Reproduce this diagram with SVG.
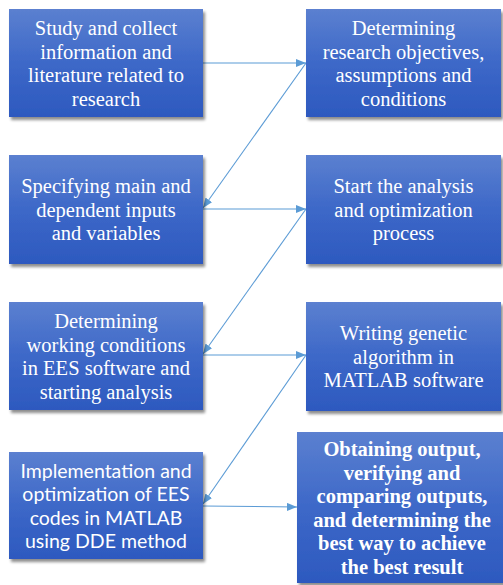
<svg xmlns="http://www.w3.org/2000/svg" width="503" height="585" viewBox="0 0 503 585">
<defs>
<linearGradient id="g" x1="0" y1="0" x2="0" y2="1">
<stop offset="0" stop-color="#5b80d0"/>
<stop offset="0.5" stop-color="#3d68c8"/>
<stop offset="1" stop-color="#2d59bf"/>
</linearGradient>
<filter id="sh" x="-10%" y="-10%" width="125%" height="125%">
<feGaussianBlur in="SourceAlpha" stdDeviation="1.5"/>
<feOffset dx="1.5" dy="2.5" result="b"/>
<feComponentTransfer><feFuncA type="linear" slope="0.45"/></feComponentTransfer>
<feMerge><feMergeNode/><feMergeNode in="SourceGraphic"/></feMerge>
</filter>
<marker id="ah" markerWidth="10" markerHeight="8" refX="10" refY="4" orient="auto" markerUnits="userSpaceOnUse">
<path d="M0,0 L10,4 L0,8 Z" fill="#5b9bd5"/>
</marker>
</defs>
<style>
.box{fill:url(#g);filter:url(#sh)}
.t{font-size:20.5px;fill:#ffffff;text-anchor:middle}
.b{font-weight:bold}
.s{font-size:19.5px;fill:#ffffff;text-anchor:middle}
.c{stroke:#5b9bd5;stroke-width:1.1;fill:none;marker-end:url(#ah)}
</style>
<rect width="503" height="585" fill="#ffffff"/>
<g id="connectors">
<line class="c" x1="203" y1="63" x2="306" y2="63"/>
<line class="c" x1="306" y1="63" x2="203" y2="208"/>
<line class="c" x1="203" y1="209" x2="306" y2="209"/>
<line class="c" x1="306" y1="209" x2="203" y2="354"/>
<line class="c" x1="203" y1="355" x2="306" y2="355"/>
<line class="c" x1="306" y1="355" x2="203" y2="504"/>
<line class="c" x1="203" y1="506" x2="297" y2="507"/>
</g>
<g id="n1" font-family="'Liberation Serif', 'Times New Roman', 'DejaVu Serif', serif">
<rect class="box" x="9" y="9" width="194" height="108"/>
<text class="t" x="106" y="35">Study and collect</text>
<text class="t" x="106" y="58.5">information and</text>
<text class="t" x="106" y="82">literature related to</text>
<text class="t" x="106" y="105.5">research</text>
</g>
<g id="n2" font-family="'Liberation Serif', 'Times New Roman', 'DejaVu Serif', serif">
<rect class="box" x="306" y="9" width="195" height="108"/>
<text class="t" x="403.5" y="35">Determining</text>
<text class="t" x="403.5" y="58.5">research objectives,</text>
<text class="t" x="403.5" y="82">assumptions and</text>
<text class="t" x="403.5" y="105.5">conditions</text>
</g>
<g id="n3" font-family="'Liberation Serif', 'Times New Roman', 'DejaVu Serif', serif">
<rect class="box" x="9" y="155" width="194" height="109"/>
<text class="t" x="106" y="193">Specifying main and</text>
<text class="t" x="106" y="216.5">dependent inputs</text>
<text class="t" x="106" y="240">and variables</text>
</g>
<g id="n4" font-family="'Liberation Serif', 'Times New Roman', 'DejaVu Serif', serif">
<rect class="box" x="306" y="155" width="195" height="109"/>
<text class="t" x="403.5" y="193">Start the analysis</text>
<text class="t" x="403.5" y="216.5">and optimization</text>
<text class="t" x="403.5" y="240">process</text>
</g>
<g id="n5" font-family="'Liberation Serif', 'Times New Roman', 'DejaVu Serif', serif">
<rect class="box" x="9" y="302" width="194" height="108"/>
<text class="t" x="106" y="328">Determining</text>
<text class="t" x="106" y="351.5">working conditions</text>
<text class="t" x="106" y="375">in EES software and</text>
<text class="t" x="106" y="398.5">starting analysis</text>
</g>
<g id="n6" font-family="'Liberation Serif', 'Times New Roman', 'DejaVu Serif', serif">
<rect class="box" x="306" y="302" width="195" height="109"/>
<text class="t" x="403.5" y="340">Writing genetic</text>
<text class="t" x="403.5" y="363.5">algorithm in</text>
<text class="t" x="403.5" y="387">MATLAB software</text>
</g>
<g id="n7" font-family="Lato, 'Open Sans', 'Liberation Sans', sans-serif">
<rect class="box" x="9" y="452" width="194" height="107"/>
<text class="s" x="106" y="477.5">Implementation and</text>
<text class="s" x="106" y="501">optimization of EES</text>
<text class="s" x="106" y="524.5">codes in MATLAB</text>
<text class="s" x="106" y="548">using DDE method</text>
</g>
<g id="n8" font-family="'Liberation Serif', 'Times New Roman', 'DejaVu Serif', serif">
<rect class="box" x="297" y="432" width="208" height="151"/>
<text class="t b" x="402" y="456">Obtaining output,</text>
<text class="t b" x="402" y="479.5">verifying and</text>
<text class="t b" x="402" y="503">comparing outputs,</text>
<text class="t b" x="402" y="526.5">and determining the</text>
<text class="t b" x="402" y="550">best way to achieve</text>
<text class="t b" x="402" y="573.5">the best result</text>
</g>
</svg>
